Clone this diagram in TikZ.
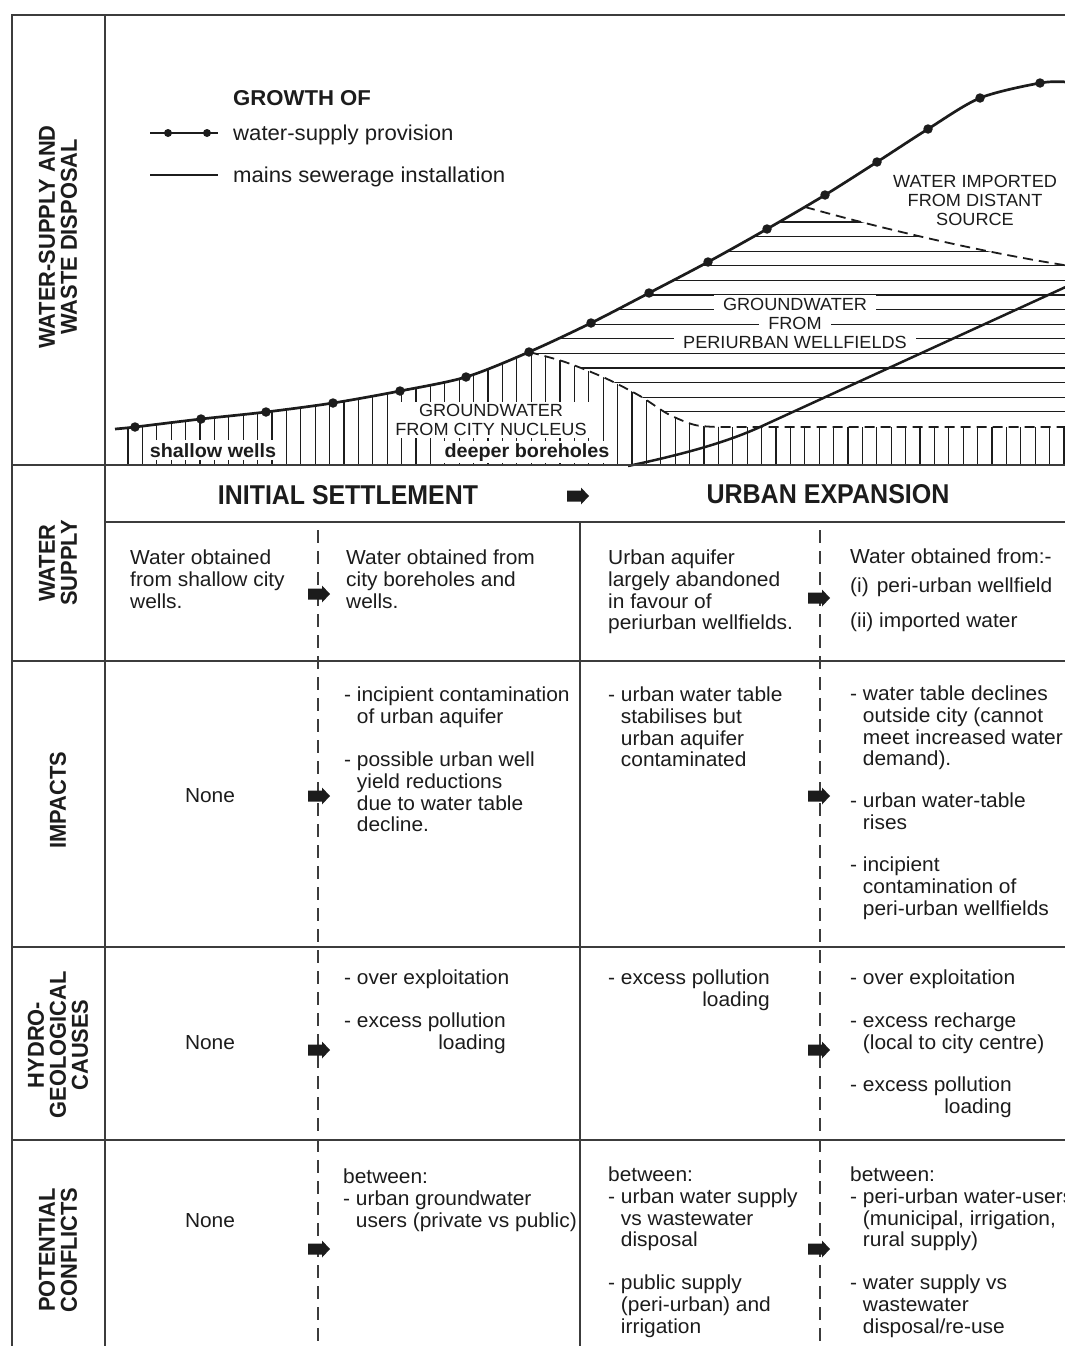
\documentclass[tikz,border=0pt]{standalone}
\usepackage{graphicx}
\usepackage{fontspec}
\setmainfont{Liberation Sans}[FakeStretch=1.03]
\newfontfamily\rotfont{Liberation Sans}[FakeStretch=0.95]
\definecolor{ink}{HTML}{1C1C1C}
\definecolor{rule}{HTML}{3C3C3C}
\newcommand\ind{\hphantom{- }}
\newcommand\bodysz{\fontsize{20.3}{21.6}\selectfont}
\newcommand\legsz{\fontsize{21.5}{23}\selectfont}
\newcommand\capsz{\fontsize{17.6}{19}\selectfont}
\newcommand\lblsz{\fontsize{19.2}{20}\selectfont\bfseries}
\newcommand\rotsz{\rotfont\fontsize{23}{22}\selectfont\bfseries}
\begin{document}
\begin{tikzpicture}[x=1pt,y=-1pt,
  every node/.style={text=ink},
  cell/.style={anchor=north west, inner sep=0pt, align=left, font=\bodysz},
  cellr/.style={anchor=north west, inner sep=0pt, align=right, font=\bodysz},
  nonecell/.style={font=\bodysz, inner sep=0pt},
  rotlabel/.style={rotate=90, align=center, font=\rotsz, inner sep=0pt},
  blk/.pic={\fill[ink] (-11,-5.5) -- (3,-5.5) -- (3,-8.5) -- (11,0) -- (3,8.5) -- (3,5.5) -- (-11,5.5) -- cycle;},
  frameline/.style={draw=rule, line width=2pt},
  colsep/.style={draw=rule, line width=1.6pt, dash pattern=on 13pt off 8pt},
  hatch/.style={draw=ink, line width=1.2pt},
  curve/.style={draw=ink, line width=2.7pt},
  bnd/.style={draw=ink, line width=1.8pt, dash pattern=on 10pt off 6pt},
  gcaps/.style={font=\capsz, align=center, inner sep=0pt},
  whitebox/.style={fill=white, inner xsep=6pt, inner ysep=3pt},
  dot/.style={circle, fill=ink, inner sep=0pt, minimum size=9.5pt},
  ldot/.style={circle, fill=ink, inner sep=0pt, minimum size=8pt},
]
\fill[white] (0,0) rectangle (1065,1346);
\useasboundingbox (0,0) rectangle (1065,1346);

% ---------- hatching of the graph ----------
\begin{scope}
  \clip plot[smooth] coordinates {(115,429) (135,427) (201,419) (266,412) (333,403) (400,391) (466,377) (529,352) (591,323) (649,293) (708,262) (767,229) (825,195) (877,162) (928,129) (980,98) (1040,83) (1066,82)} -- (1066,470) -- (115,470) -- cycle;
  \begin{scope}
    \clip (0,0) -- (529,0) -- plot[smooth] coordinates {(529,352) (565,362) (605,378) (640,396) (668,414) (695,425) (720,427)} -- (1070,427) -- (1070,470) -- (0,470) -- cycle;
    \foreach \k in {0,...,65} \draw[hatch] ({128+14.4*\k},150) -- ({128+14.4*\k},466);
  \end{scope}
  \begin{scope}
    \clip (529,0) -- plot[smooth] coordinates {(529,352) (565,362) (605,378) (640,396) (668,414) (695,425) (720,427)} -- (1070,427) -- (1070,0) -- cycle;
    \clip (0,207) -- (805,207) .. controls (880,228) and (980,252) .. (1070,266) -- (1070,470) -- (0,470) -- cycle;
    \foreach \k in {0,...,13} \draw[hatch] (500,{222+14.6*\k}) -- (1070,{222+14.6*\k});
  \end{scope}
\end{scope}

% ---------- graph labels on white ----------
\node[gcaps, whitebox, inner ysep=2pt] (gcity) at (491,420) {GROUNDWATER\\FROM CITY NUCLEUS};
\node[font=\lblsz, fill=white, inner xsep=4pt, inner ysep=2pt, anchor=base] (deep) at (527,457) {deeper boreholes};
\node[font=\lblsz, fill=white, inner xsep=5pt, inner ysep=3pt, anchor=base] (shallow) at (213,457) {shallow wells};
\node[gcaps, whitebox, inner xsep=9pt] (gp1) at (795,304) {GROUNDWATER};
\node[gcaps, whitebox, inner xsep=9pt] (gp2) at (795,323) {FROM};
\node[gcaps, whitebox, inner xsep=9pt] (gp3) at (795,342) {PERIURBAN WELLFIELDS};
\node[gcaps] (gimp) at (975,200) {WATER IMPORTED\\FROM DISTANT\\SOURCE};

% ---------- boundaries and curves ----------
\draw[bnd] plot[smooth] coordinates {(529,352) (565,362) (605,378) (640,396) (668,414) (695,425) (720,427)} -- (1070,427);
\draw[bnd] (805,207) .. controls (880,228) and (980,252) .. (1070,266);
\draw[curve, line width=2.5pt] (628,466) .. controls (680,455) and (725,443) .. (760,427) -- (1070,285);
\draw[curve] plot[smooth] coordinates {(115,429) (135,427) (201,419) (266,412) (333,403) (400,391) (466,377) (529,352) (591,323) (649,293) (708,262) (767,229) (825,195) (877,162) (928,129) (980,98) (1040,83) (1066,82)};
\foreach \p [count=\i] in {(135,427),(201,419),(266,412),(333,403),(400,391),(466,377),(529,352),(591,323),(649,293),(708,262),(767,229),(825,195),(877,162),(928,129),(980,98),(1040,83)}
  \node[dot] (d\i) at \p {};

% ---------- legend ----------
\node[anchor=west, font=\legsz\bfseries, inner sep=0pt] (growth) at (233,98) {GROWTH OF};
\coordinate (la) at (150,133); \coordinate (lb) at (218,133);
\draw[curve, line width=2.4pt] (la) -- (lb);
\node[ldot] (ld1) at (168,133) {};
\node[ldot] (ld2) at (207,133) {};
\node[anchor=base west, font=\legsz, inner sep=0pt] (lgt1) at (233,140) {water-supply provision};
\coordinate (lc) at (150,175); \coordinate (ld) at (218,175);
\draw[curve, line width=2.4pt] (lc) -- (ld);
\node[anchor=base west, font=\legsz, inner sep=0pt] (lgt2) at (233,182) {mains sewerage installation};

% ---------- table frame ----------
\draw[frameline] (12,1347) -- (12,15) -- (1066,15);
\draw[frameline] (105,15) -- (105,1347);
\draw[frameline] (12,465) -- (1066,465);
\draw[frameline] (105,522) -- (1066,522);
\draw[frameline] (12,661) -- (1066,661);
\draw[frameline] (12,947) -- (1066,947);
\draw[frameline] (12,1140) -- (1066,1140);
\draw[frameline] (580,522) -- (580,1347);
\draw[colsep] (318,530) -- (318,1347);
\draw[colsep] (820,530) -- (820,1347);

% ---------- row labels ----------
\node[rotlabel] (rl1) at (58,237) {WATER-SUPPLY AND\\WASTE DISPOSAL};
\node[rotlabel] (rl2) at (58,563) {WATER\\SUPPLY};
\node[rotlabel] (rl3) at (58,800) {IMPACTS};
\node[rotlabel] (rl4) at (58,1045) {HYDRO-\\GEOLOGICAL\\CAUSES};
\node[rotlabel] (rl5) at (58,1250) {POTENTIAL\\CONFLICTS};

% ---------- header ----------
\node[inner sep=0pt] (hdr1) at (348,495) {\resizebox{260pt}{19pt}{\bfseries INITIAL SETTLEMENT}};
\node[inner sep=0pt] (hdr2) at (828,494) {\resizebox{243pt}{19pt}{\bfseries URBAN EXPANSION}};
\pic (harr) at (578,496) {blk};

% ---------- water supply row ----------
\node[cell] (ws1) at (130,550) {Water obtained\\from shallow city\\wells.};
\node[cell] (ws2) at (346,550) {Water obtained from\\city boreholes and\\wells.};
\node[cell] (ws3) at (608,550) {Urban aquifer\\largely abandoned\\in favour of\\periurban wellfields.};
\node[cell] (ws4a) at (850,549) {Water obtained from:-};
\node[cell] (ws4b) at (850,578) {(i)\hspace{8pt}peri-urban wellfield};
\node[cell] (ws4c) at (850,613) {(ii) imported water};
\pic (aw1) at (319,594) {blk};
\pic (aw2) at (819,598) {blk};

% ---------- impacts row ----------
\node[nonecell] (im1) at (210,796) {None};
\node[cell] (im2a) at (344,687) {- incipient contamination\\\ind of urban aquifer};
\node[cell] (im2b) at (344,752) {- possible urban well\\\ind yield reductions\\\ind due to water table\\\ind decline.};
\node[cell] (im3) at (608,687) {- urban water table\\\ind stabilises but\\\ind urban aquifer\\\ind contaminated};
\node[cell] (im4a) at (850,686) {- water table declines\\\ind outside city (cannot\\\ind meet increased water\\\ind demand).};
\node[cell] (im4b) at (850,793) {- urban water-table\\\ind rises};
\node[cell] (im4c) at (850,857) {- incipient\\\ind contamination of\\\ind peri-urban wellfields};
\pic (ai1) at (319,796) {blk};
\pic (ai2) at (819,796) {blk};

% ---------- hydrogeological causes row ----------
\node[nonecell] (hy1) at (210,1043) {None};
\node[cell] (hy2a) at (344,970) {- over exploitation};
\node[cellr] (hy2b) at (344,1013) {- excess pollution\\loading};
\node[cellr] (hy3) at (608,970) {- excess pollution\\loading};
\node[cell] (hy4a) at (850,970) {- over exploitation};
\node[cell] (hy4b) at (850,1013) {- excess recharge\\\ind(local to city centre)};
\node[cellr] (hy4c) at (850,1077) {- excess pollution\\loading};
\pic (ah1) at (319,1050) {blk};
\pic (ah2) at (819,1050) {blk};

% ---------- potential conflicts row ----------
\node[nonecell] (cf1) at (210,1221) {None};
\node[cell] (cf2) at (343,1169) {between:\\- urban groundwater\\\ind users (private vs public)};
\node[cell] (cf3a) at (608,1167) {between:\\- urban water supply\\\ind vs wastewater\\\ind disposal};
\node[cell] (cf3b) at (608,1275) {- public supply\\\ind (peri-urban) and\\\ind irrigation};
\node[cell] (cf4a) at (850,1167) {between:\\- peri-urban water-users\\\ind (municipal, irrigation,\\\ind rural supply)};
\node[cell] (cf4b) at (850,1275) {- water supply vs\\\ind wastewater\\\ind disposal/re-use};
\pic (ac1) at (319,1249) {blk};
\pic (ac2) at (819,1249) {blk};
\end{tikzpicture}
\end{document}
